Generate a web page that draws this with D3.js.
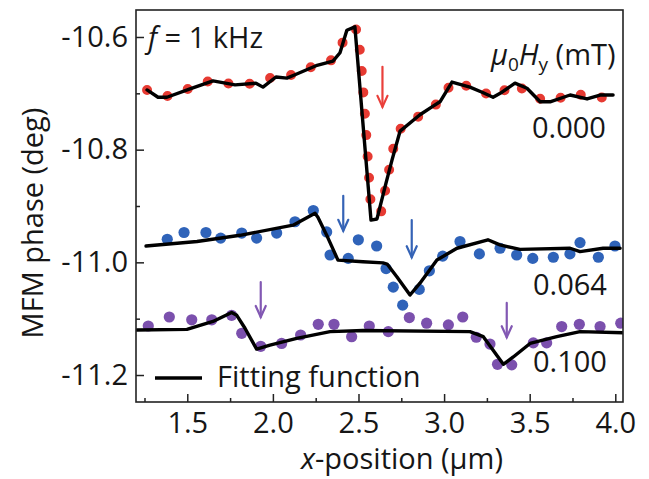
<!DOCTYPE html>
<html>
<head>
<meta charset="utf-8">
<script src="https://cdn.jsdelivr.net/npm/d3@7"></script>
<style>
  html, body { margin: 0; padding: 0; background: #ffffff; }
  svg { display: block; font-family: "Open Sans", Lato, sans-serif; }
</style>
</head>
<body>
<svg id="chart" width="649" height="479"></svg>
<script>
// ---- Measured MFM phase profile at 0.000 mT (dotted trace) ----
const trace0X = [1.265, 1.381, 1.516, 1.644, 1.779, 1.901, 2.018, 2.129, 2.246, 2.345, 2.409, 2.468,
                 2.495, 2.514, 2.536, 2.556, 2.565, 2.572, 2.602, 2.637, 2.654, 2.683, 2.713, 2.748,
                 2.865, 2.976, 3.046, 3.163, 3.292, 3.414, 3.519, 3.630, 3.753, 3.864, 3.981];
const trace0Y = [-10.694, -10.705, -10.691, -10.676, -10.685, -10.682, -10.669, -10.667, -10.650, -10.641, -10.609, -10.584,
                 -10.588, -10.641, -10.730, -10.824, -10.866, -10.900, -10.913, -10.909, -10.875, -10.829, -10.783, -10.762,
                 -10.738, -10.715, -10.680, -10.689, -10.707, -10.682, -10.707, -10.714, -10.699, -10.708, -10.707];

// ---- Fitting function at 0.000 mT ----
const fit0X = [1.265, 1.329, 1.381, 1.516, 1.650, 1.779, 1.901, 1.942, 2.018, 2.082, 2.129, 2.252, 2.351, 2.392,
               2.432, 2.479, 2.573, 2.608, 2.661, 2.696, 2.743, 2.859, 2.929, 2.976, 3.046, 3.151, 3.222, 3.286,
               3.338, 3.414, 3.484, 3.561, 3.619, 3.736, 3.835, 3.911, 3.987];
const fit0Y = [-10.694, -10.707, -10.707, -10.692, -10.678, -10.685, -10.682, -10.689, -10.671, -10.673, -10.667, -10.651, -10.643, -10.628,
               -10.588, -10.582, -10.925, -10.923, -10.859, -10.818, -10.767, -10.738, -10.724, -10.715, -10.680, -10.689, -10.698, -10.707,
               -10.698, -10.682, -10.691, -10.715, -10.715, -10.703, -10.710, -10.703, -10.703];

// ---- Measured points at 0.064 mT ----
const data64X = [1.383, 1.481, 1.609, 1.695, 1.818, 1.905, 2.022, 2.129, 2.236, 2.314, 2.334, 2.440, 2.499, 2.606, 2.661,
                 2.703, 2.758, 2.855, 2.914, 2.992, 3.093, 3.206, 3.327, 3.424, 3.518, 3.638, 3.735, 3.794, 3.901, 3.998];
const data64Y = [-10.959, -10.947, -10.947, -10.957, -10.948, -10.957, -10.948, -10.928, -10.908, -10.946, -10.987, -10.993, -10.960, -10.971, -11.011,
                 -11.044, -11.076, -11.048, -11.015, -10.989, -10.963, -10.985, -10.975, -10.987, -10.993, -10.991, -10.985, -10.965, -10.991, -10.971];

// ---- Fitting function at 0.064 mT ----
const fit64X = [1.259, 1.557, 1.808, 2.118, 2.246, 2.263, 2.322, 2.380, 2.526, 2.643, 2.667, 2.725, 2.801, 2.859,
                2.958, 3.075, 3.256, 3.326, 3.443, 3.736, 3.794, 3.929, 4.028];
const fit64Y = [-10.971, -10.963, -10.952, -10.934, -10.913, -10.920, -10.957, -10.996, -10.999, -11.001, -11.003, -11.026, -11.058, -11.037,
                -10.996, -10.975, -10.960, -10.969, -10.977, -10.975, -10.981, -10.975, -10.975];

// ---- Measured points at 0.100 mT ----
const data100X = [1.272, 1.395, 1.526, 1.643, 1.759, 1.818, 1.929, 2.051, 2.162, 2.265, 2.357, 2.460, 2.563, 2.674,
                  2.797, 2.898, 3.025, 3.109, 3.188, 3.268, 3.312, 3.395, 3.521, 3.599, 3.687, 3.790, 3.911, 4.032];
const data100Y = [-11.113, -11.097, -11.102, -11.102, -11.094, -11.126, -11.149, -11.144, -11.129, -11.110, -11.110, -11.132, -11.113, -11.123,
                  -11.098, -11.108, -11.111, -11.097, -11.133, -11.145, -11.181, -11.182, -11.143, -11.143, -11.114, -11.110, -11.114, -11.108];

// ---- Fitting function at 0.100 mT ----
const fit100X = [1.206, 1.498, 1.650, 1.759, 1.789, 1.837, 1.905, 1.983, 2.139, 2.334, 2.528, 3.151, 3.229, 3.346,
                 3.404, 3.502, 3.658, 3.794, 4.047];
const fit100Y = [-11.120, -11.119, -11.105, -11.089, -11.094, -11.117, -11.154, -11.147, -11.135, -11.123, -11.121, -11.123, -11.132, -11.181,
                 -11.168, -11.144, -11.132, -11.123, -11.125];

// ---- Domain-wall position markers (x, top, bottom) ----
const arrowX      = [2.640, 2.411, 2.811, 1.929, 3.366];
const arrowTop    = [-10.653, -10.882, -10.925, -11.035, -11.072];
const arrowBottom = [-10.724, -10.944, -10.991, -11.097, -11.133];
const arrowSeries = [0, 1, 1, 2, 2];

// ---- Axis ticks and labels ----
const xTicks = [1.5, 2.0, 2.5, 3.0, 3.5, 4.0];
const xMinorTicks = [1.25, 1.75, 2.25, 2.75, 3.25, 3.75];
const yTicks = [-10.6, -10.8, -11.0, -11.2];
const yMinorTicks = [-10.7, -10.9, -11.1];
const fieldLabels = ["0.000", "0.064", "0.100"];

// ---- Layout ----
const W = 649, H = 479;
const plot = { left: 136, top: 10, right: 623, bottom: 402 };
const colors = ["#e63a32", "#2f63b9", "#7b50ad"];
const arrowColors = ["#ea3f3a", "#3563b6", "#8258b3"];
const FONT = "'Open Sans', Lato, sans-serif";
const FS = 29;
const INK = "#161616";

const svg = d3.select("#chart");
svg.append("rect").attr("width", W).attr("height", H).attr("fill", "#ffffff");

const x = d3.scaleLinear().domain([1.2004, 4.045]).range([plot.left, plot.right]);
const y = d3.scaleLinear().domain([-10.5521, -11.2479]).range([plot.top, plot.bottom]);

const zip = (xs, ys) => xs.map((v, i) => [v, ys[i]]);
const line = d3.line().x(d => x(d[0])).y(d => y(d[1]));

// clip marks to the frame
svg.append("clipPath").attr("id", "plotClip")
  .append("rect")
  .attr("x", plot.left).attr("y", plot.top)
  .attr("width", plot.right - plot.left).attr("height", plot.bottom - plot.top);

const marks = svg.append("g").attr("clip-path", "url(#plotClip)");

// dotted measured trace at 0 mT
marks.append("path")
  .datum(zip(trace0X, trace0Y))
  .attr("d", line)
  .attr("fill", "none")
  .attr("stroke", colors[0])
  .attr("stroke-width", 10)
  .attr("stroke-linecap", "round")
  .attr("stroke-dasharray", "0 21.4");

// scattered measured points
[[data64X, data64Y, 1], [data100X, data100Y, 2]].forEach(([xs, ys, k]) => {
  marks.append("g")
    .selectAll("circle")
    .data(zip(xs, ys))
    .join("circle")
    .attr("cx", d => x(d[0]))
    .attr("cy", d => y(d[1]))
    .attr("r", 5.6)
    .attr("fill", colors[k]);
});

// fitting functions
[[fit0X, fit0Y], [fit64X, fit64Y], [fit100X, fit100Y]].forEach(([xs, ys]) => {
  marks.append("path")
    .datum(zip(xs, ys))
    .attr("d", line)
    .attr("fill", "none")
    .attr("stroke", "#000")
    .attr("stroke-width", 3.4)
    .attr("stroke-linejoin", "round")
    .attr("stroke-linecap", "round");
});

// arrows marking domain walls
arrowX.forEach((ax, i) => {
  const px = x(ax), y0 = y(arrowTop[i]), y1 = y(arrowBottom[i]);
  const g = svg.append("g")
    .attr("stroke", arrowColors[arrowSeries[i]])
    .attr("stroke-width", 2.2)
    .attr("fill", "none")
    .attr("stroke-linecap", "round");
  g.append("line").attr("x1", px).attr("x2", px).attr("y1", y0).attr("y2", y1);
  g.append("path").attr("d", `M${px - 5},${y1 - 11}L${px},${y1}L${px + 5},${y1 - 11}`);
});

// axes with inward ticks
const fmt = d => d.toFixed(1);
const xAxis = svg.append("g")
  .attr("transform", `translate(0,${plot.bottom})`)
  .call(d3.axisBottom(x).tickValues(xTicks).tickFormat(fmt).tickSize(-8).tickPadding(10));
const xMinor = svg.append("g")
  .attr("transform", `translate(0,${plot.bottom})`)
  .call(d3.axisBottom(x).tickValues(xMinorTicks).tickFormat("").tickSize(-4));
const yAxis = svg.append("g")
  .attr("transform", `translate(${plot.left},0)`)
  .call(d3.axisLeft(y).tickValues(yTicks).tickFormat(fmt).tickSize(-8).tickPadding(8));
const yMinor = svg.append("g")
  .attr("transform", `translate(${plot.left},0)`)
  .call(d3.axisLeft(y).tickValues(yMinorTicks).tickFormat("").tickSize(-4));

[xAxis, xMinor, yAxis, yMinor].forEach(g => {
  g.select(".domain").remove();
  g.selectAll(".tick line").attr("stroke", "#222").attr("stroke-width", 1.5);
  g.selectAll(".tick text")
    .attr("font-family", FONT)
    .attr("font-size", FS)
    .attr("fill", INK);
});

// frame
svg.append("rect")
  .attr("x", plot.left).attr("y", plot.top)
  .attr("width", plot.right - plot.left).attr("height", plot.bottom - plot.top)
  .attr("fill", "none").attr("stroke", "#222").attr("stroke-width", 1.6);

// axis titles
const xt = svg.append("text")
  .attr("x", 402).attr("y", 469)
  .attr("text-anchor", "middle")
  .attr("font-size", FS).attr("fill", INK);
xt.append("tspan").attr("font-style", "italic").text("x");
xt.append("tspan").text("-position (μm)");

svg.append("text")
  .attr("transform", "translate(43,223) rotate(-90)")
  .attr("text-anchor", "middle")
  .attr("font-size", FS).attr("fill", INK)
  .text("MFM phase (deg)");

// frequency note
const ft = svg.append("text")
  .attr("x", 148).attr("y", 48)
  .attr("font-size", FS).attr("fill", INK);
ft.append("tspan").attr("font-style", "italic").text("f");
ft.append("tspan").text(" = 1 kHz");

// field header
const ht = svg.append("text")
  .attr("x", 491).attr("y", 65)
  .attr("font-size", FS).attr("fill", INK);
ht.append("tspan").attr("font-style", "italic").text("μ");
ht.append("tspan").attr("font-size", 19).attr("dy", 6).text("0");
ht.append("tspan").attr("font-style", "italic").attr("dy", -6).text("H");
ht.append("tspan").attr("font-size", 19).attr("dy", 6).text("y");
ht.append("tspan").attr("dy", -6).text(" (mT)");

// field values per trace
const labelPos = [[532, 138], [533, 295], [533, 372]];
fieldLabels.forEach((t, i) => {
  svg.append("text")
    .attr("x", labelPos[i][0]).attr("y", labelPos[i][1])
    .attr("font-size", FS).attr("fill", INK)
    .text(t);
});

// legend
svg.append("line")
  .attr("x1", 155).attr("x2", 202).attr("y1", 378).attr("y2", 378)
  .attr("stroke", "#000").attr("stroke-width", 3.6);
svg.append("text")
  .attr("x", 217).attr("y", 387)
  .attr("font-size", FS).attr("fill", INK)
  .text("Fitting function");
</script>
</body>
</html>
